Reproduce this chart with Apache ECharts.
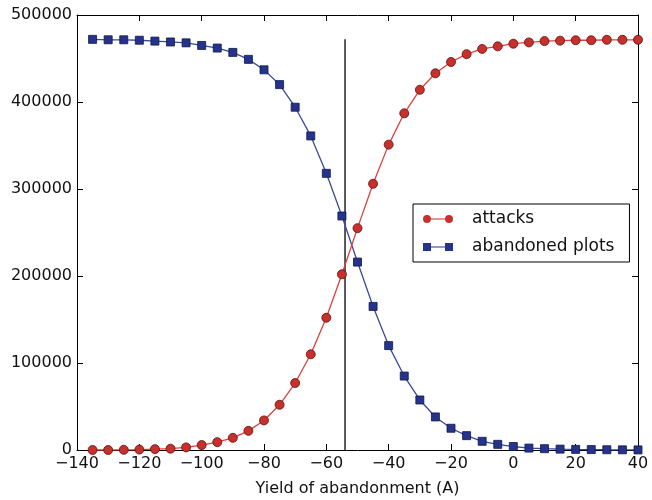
<!DOCTYPE html>
<html>
<head>
<meta charset="utf-8">
<script src="https://cdn.jsdelivr.net/npm/echarts@6/dist/echarts.min.js"></script>
<style>
  html, body { margin: 0; padding: 0; background: #fff; }
  #chart { width: 652px; height: 500px; }
</style>
</head>
<body>
<div id="chart"></div>
<script>
// yield of abandonment, step 5
const yields = [-135, -130, -125, -120, -115, -110, -105, -100, -95, -90, -85, -80,
  -75, -70, -65, -60, -55, -50, -45, -40, -35, -30, -25, -20,
  -15, -10, -5, 0, 5, 10, 15, 20, 25, 30, 35, 40];
const attacks = [0, 0, 200, 500, 1000, 1500, 3000, 5700, 9000, 14000, 22000, 34000,
  52000, 77000, 110000, 152000, 202000, 255000, 306000, 351000, 387000, 414000, 433000, 446000,
  455000, 461000, 464000, 467000, 468500, 470000, 470500, 471000, 471000, 471500, 471500, 471500];
const abandonedPlots = [472000, 471500, 471500, 471000, 470000, 469000, 468000, 465000, 462000, 457000, 449000, 437000,
  420000, 394000, 361000, 318000, 269000, 216000, 165000, 120000, 85000, 57500, 38000, 25000,
  16500, 10000, 6500, 4000, 2200, 1500, 1000, 700, 500, 300, 200, 100];
// vertical marker line
const markerX = -54;
const markerTop = 472000;

const xTicks = [-140, -120, -100, -80, -60, -40, -20, 0, 20, 40];
const yTicks = [0, 100000, 200000, 300000, 400000, 500000];

const toPairs = (xs, ys) => xs.map((x, i) => [x, ys[i]]);

const font = "'DejaVu Sans', sans-serif";
const chart = echarts.init(document.getElementById("chart"));

// legend icons: two markers joined by a line, like matplotlib
const circleIcon = "path://M0,4a4,4 0 1,0 8,0a4,4 0 1,0 -8,0Z M8,3.4L22,3.4L22,4.6L8,4.6Z M22,4a4,4 0 1,0 8,0a4,4 0 1,0 -8,0Z";
const squareIcon = "path://M0,0L8,0L8,8L0,8Z M8,3.4L22,3.4L22,4.6L8,4.6Z M22,0L30,0L30,8L22,8Z";

const baseX = {
  type: "value",
  min: xTicks[0],
  max: xTicks[xTicks.length - 1],
  interval: 20,
  splitLine: { show: false },
  axisLine: { show: true, onZero: false, lineStyle: { color: "#000", width: 1 } },
  axisTick: { show: true, inside: true, length: 6, lineStyle: { color: "#000" } }
};
const baseY = {
  type: "value",
  min: yTicks[0],
  max: yTicks[yTicks.length - 1],
  interval: 100000,
  splitLine: { show: false },
  axisLine: { show: true, onZero: false, lineStyle: { color: "#000", width: 1 } },
  axisTick: { show: true, inside: true, length: 6, lineStyle: { color: "#000" } }
};

chart.setOption({
  animation: false,
  backgroundColor: "#fff",
  grid: { left: 77, right: 14, top: 15, bottom: 50, containLabel: false, outerBoundsMode: "none" },
  legend: {
    orient: "vertical",
    left: 413,
    top: 204,
    padding: [6, 15, 6, 10],
    itemGap: 10,
    itemWidth: 30,
    itemHeight: 8,
    borderColor: "#000",
    borderWidth: 1,
    borderRadius: 0,
    backgroundColor: "#fff",
    itemStyle: { borderWidth: 0 },
    textStyle: { fontFamily: font, fontSize: 17, lineHeight: 18, color: "#111", padding: [0, 0, 0, 14] },
    data: [
      { name: "attacks", icon: circleIcon },
      { name: "abandoned plots", icon: squareIcon }
    ]
  },
  xAxis: [
    Object.assign({}, baseX, {
      position: "bottom",
      name: "Yield of abandonment (A)",
      nameLocation: "middle",
      nameGap: 31,
      nameTextStyle: { fontFamily: font, fontSize: 16, color: "#111" },
      axisLabel: {
        fontFamily: font, fontSize: 16, color: "#111", margin: 6,
        formatter: v => (v < 0 ? "\u2212" + Math.abs(v) : String(v))
      }
    }),
    Object.assign({}, baseX, { position: "top", axisLabel: { show: false } })
  ],
  yAxis: [
    Object.assign({}, baseY, {
      position: "left",
      axisLabel: { fontFamily: font, fontSize: 16, color: "#111", margin: 5, formatter: v => String(v) }
    }),
    Object.assign({}, baseY, { position: "right", axisLabel: { show: false } })
  ],
  series: [
    {
      name: "marker",
      type: "line",
      data: [[markerX, 0], [markerX, markerTop]],
      symbol: "none",
      silent: true,
      lineStyle: { color: "#111", width: 1.4 },
      z: 1
    },
    {
      name: "attacks",
      type: "line",
      data: toPairs(yields, attacks),
      symbol: "circle",
      symbolSize: 9,
      lineStyle: { color: "#e0403c", width: 1.3 },
      itemStyle: { color: "#c8302c", borderColor: "#5a1010", borderWidth: 0.8 },
      z: 3
    },
    {
      name: "abandoned plots",
      type: "line",
      data: toPairs(yields, abandonedPlots),
      symbol: "rect",
      symbolSize: 8,
      lineStyle: { color: "#3a4a9a", width: 1.3 },
      itemStyle: { color: "#26338c", borderColor: "#101848", borderWidth: 0.8 },
      z: 2
    }
  ]
});
</script>
</body>
</html>
